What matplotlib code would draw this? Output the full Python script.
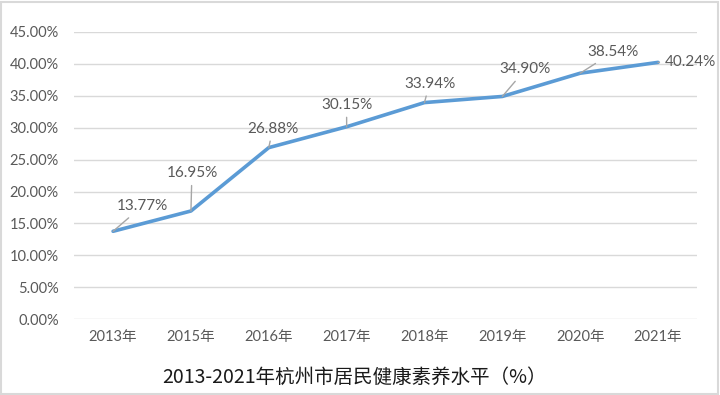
import matplotlib
matplotlib.use("Agg")
from matplotlib import pyplot as plt
from matplotlib.ticker import FuncFormatter, MultipleLocator
import matplotlib.patches as mpatches

plt.rcParams['font.family'] = ['Lato', 'Noto Sans CJK SC', 'DejaVu Sans']

years = ['2013年', '2015年', '2016年', '2017年', '2018年', '2019年', '2020年', '2021年']
values = [13.77, 16.95, 26.88, 30.15, 33.94, 34.90, 38.54, 40.24]
# label offsets in pixels (x, y)
label_offsets = [(29, 25), (1, 38), (4, 19), (0, 22), (5, 19), (23, 27), (33, 21), (7, 0)]

fig = plt.figure(figsize=(7.2, 3.95), dpi=100)
ax = fig.add_axes([0.103, 0.192, 0.865, 0.727])

x = list(range(len(years)))
ax.plot(x, values, color='#5B9BD5', lw=2.6, solid_capstyle='round', zorder=3)

ax.set_xlim(-0.5, len(years) - 0.5)
ax.set_ylim(0, 45)
ax.yaxis.set_major_locator(MultipleLocator(5))
ax.yaxis.set_major_formatter(FuncFormatter(lambda v, p: f'{v:.2f}%'))
ax.set_xticks(x)
ax.set_xticklabels(years)
ax.grid(axis='y', color='#D9D9D9', lw=1)
ax.set_axisbelow(True)
for s in ax.spines.values():
    s.set_visible(False)
ax.tick_params(length=0, colors='#595959', labelsize=10.5)
ax.tick_params(axis='y', pad=11)
ax.tick_params(axis='x', pad=8)

for i, v in enumerate(values):
    dx, dy = label_offsets[i]
    ha = 'left' if i == len(values) - 1 else 'center'
    ax.annotate(f'{v:.2f}%', xy=(i, v), xytext=(dx, dy),
                textcoords='offset pixels', ha=ha, va='center',
                fontsize=11, color='#595959',
                arrowprops=dict(arrowstyle='-', color='#A6A6A6', lw=1,
                                shrinkA=2, shrinkB=0))

fig.text(0.492, 0.046, '2013-2021年杭州市居民健康素养水平（%）', ha='center', va='center',
         fontsize=14, color='#1a1a1a', fontweight='medium',
         family=['Noto Sans CJK SC', 'DejaVu Sans'])

fig.patches.append(mpatches.Rectangle((0.002, 0.003), 0.995, 0.993, transform=fig.transFigure,
                                      fill=False, ec='#D9D9D9', lw=1.5))

fig.savefig('out.png', dpi=100)
